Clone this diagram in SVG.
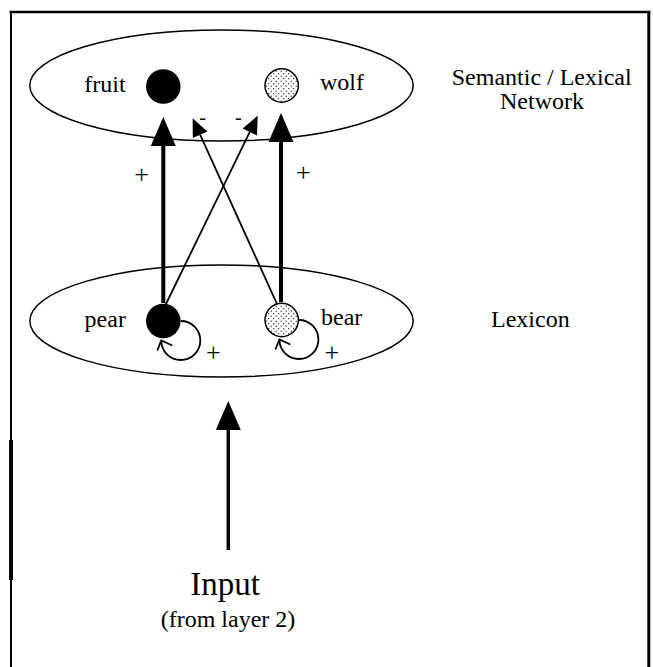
<svg xmlns="http://www.w3.org/2000/svg" width="653" height="667" viewBox="0 0 653 667">
  <style>
    .lbl { font-family: "Liberation Serif", "Times New Roman", serif; font-size: 24px; fill: #000; }
    .sign { font-family: "Liberation Serif", "Times New Roman", serif; font-size: 26px; fill: #000; text-anchor: middle; }
    .minus { font-family: "Liberation Serif", "Times New Roman", serif; font-size: 20px; fill: #000; text-anchor: middle; }
    .layer { fill: none; stroke: #000; stroke-width: 1.5; }
    .solid { fill: #000; }
    .stipple { fill: url(#dots); stroke: #000; stroke-width: 1.5; }
    .thick { fill: none; stroke: #000; stroke-width: 4; }
    .thin { fill: none; stroke: #000; stroke-width: 1.8; }
    .frame { fill: none; stroke: #000; }
  </style>
  <defs>
    <pattern id="dots" width="5" height="5" patternUnits="userSpaceOnUse">
      <rect width="5" height="5" fill="#fff"/>
      <circle cx="1.2" cy="1.2" r="0.6" fill="#000"/>
      <circle cx="3.7" cy="3.7" r="0.6" fill="#000"/>
    </pattern>
    <marker id="headL" markerUnits="userSpaceOnUse" viewBox="0 -13 30 26" markerWidth="30" markerHeight="26" refX="0" refY="0" orient="auto" overflow="visible">
      <path d="M0,-12.5 L29,0 L0,12.5 Z" fill="#000"/>
    </marker>
    <marker id="headS" markerUnits="userSpaceOnUse" viewBox="0 -9 19 18" markerWidth="19" markerHeight="18" refX="0" refY="0" orient="auto" overflow="visible">
      <path d="M0,-8 L18,0 L0,8 Z" fill="#000"/>
    </marker>
    <marker id="headOpen" markerUnits="userSpaceOnUse" viewBox="-12 -6 14 19" markerWidth="14" markerHeight="19" refX="0" refY="0" orient="auto" overflow="visible">
      <path d="M-10,-4 L0,0 L-5,11" fill="none" stroke="#000" stroke-width="1.8"/>
    </marker>
  </defs>

  <g id="frame">
    <line class="frame" x1="9.5" y1="12" x2="650.3" y2="12" stroke-width="2.5"/>
    <line class="frame" x1="11" y1="11" x2="11" y2="667" stroke-width="2"/>
    <line class="frame" x1="11" y1="440" x2="11" y2="580" stroke-width="4"/>
    <line class="frame" x1="648.8" y1="11" x2="648.8" y2="667" stroke-width="3"/>
  </g>

  <g id="semantic-network">
    <ellipse class="layer" cx="221.5" cy="85.5" rx="191.7" ry="55.5"/>
    <text class="lbl" x="541.7" y="85" text-anchor="middle">Semantic / Lexical</text>
    <text class="lbl" x="542" y="109.3" text-anchor="middle">Network</text>
  </g>

  <g id="lexicon">
    <ellipse class="layer" cx="221.5" cy="321" rx="191.7" ry="56"/>
    <text class="lbl" x="491" y="327">Lexicon</text>
  </g>

  <g id="node-fruit">
    <circle class="solid" cx="163.3" cy="86.5" r="17.3"/>
    <text class="lbl" x="84.3" y="91.5">fruit</text>
  </g>

  <g id="node-wolf">
    <circle class="stipple" cx="281.7" cy="85.5" r="16.7"/>
    <text class="lbl" x="320" y="90">wolf</text>
  </g>

  <g id="node-pear">
    <circle class="solid" cx="163.3" cy="321" r="17.3"/>
    <text class="lbl" x="84.6" y="326.5">pear</text>
  </g>

  <g id="node-bear">
    <circle class="stipple" cx="281.7" cy="320" r="16.7"/>
    <text class="lbl" x="321" y="325">bear</text>
  </g>

  <g id="input">
    <text x="225" y="595" text-anchor="middle" style="font-family: 'Liberation Serif', 'Times New Roman', serif; font-size: 33px; fill: #000;">Input</text>
    <text class="lbl" x="228" y="626.7" text-anchor="middle">(from layer 2)</text>
  </g>

  <g id="connectors">
    <path class="thick" d="M163.3,303 L163.3,146" marker-end="url(#headL)"/>
    <path class="thick" d="M281,302 L281,142" marker-end="url(#headL)"/>
    <path class="thin" d="M165,306 L249.8,131.9" marker-end="url(#headS)"/>
    <path class="thin" d="M277,304 L200.1,134.7" marker-end="url(#headS)"/>
    <path class="thin" d="M180.8,321 A19.5,19.5 0 1 1 161.3,340.5" marker-end="url(#headOpen)"/>
    <path class="thin" d="M298.4,320 A19.5,19.5 0 1 1 279.4,339.5" marker-end="url(#headOpen)"/>
    <path d="M228.3,550 L228.3,430" fill="none" stroke="#000" stroke-width="3.5" marker-end="url(#headL)"/>
    <text class="sign" x="141.7" y="183">+</text>
    <text class="sign" x="303.3" y="181">+</text>
    <text class="sign" x="213.3" y="361">+</text>
    <text class="sign" x="331.8" y="361">+</text>
    <text class="minus" x="202.7" y="124">-</text>
    <text class="minus" x="238.3" y="124">-</text>
  </g>
</svg>
